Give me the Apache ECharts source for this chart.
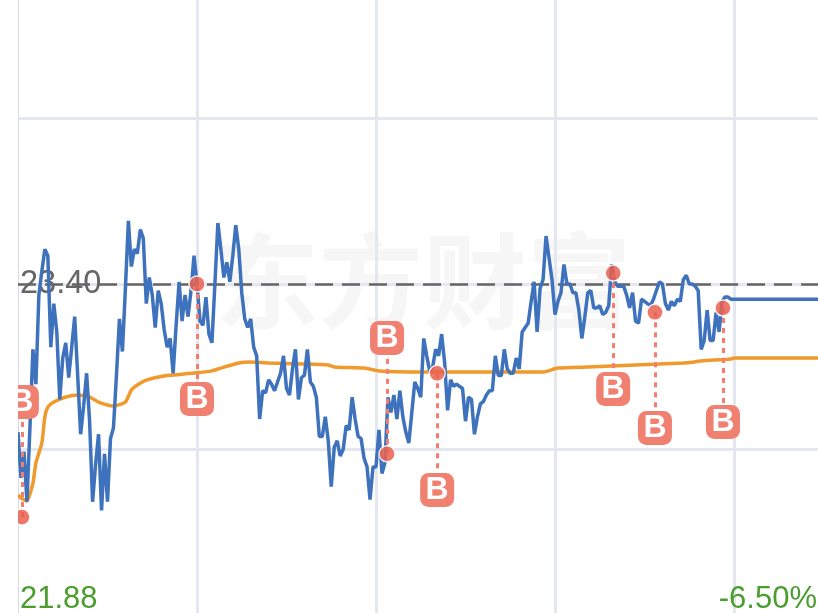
<!DOCTYPE html>
<html>
<head>
    <meta charset="UTF-8">
    <title>分时</title>
    <style type="text/css">
        html,body{margin:0;padding:0;background:#fff;overflow:hidden;}
        #chart{width:818px;height:613px;}
    </style>
</head>
<body>
    <div id="chart"></div>
<script type="text/javascript" src="https://cdn.jsdelivr.net/npm/echarts@6/dist/echarts.min.js"></script>
<script type="text/javascript">
// 分时价格，下标即分钟
var price = [
    22.72,22.51,22.63,22.40,22.74,23.10,22.94,23.35,23.46,23.56,23.53,23.11,23.31,23.18,22.87,23.06,23.13,22.97,23.11,23.25,
    22.98,22.71,22.84,22.99,22.77,22.40,22.57,22.71,22.36,22.62,22.40,22.69,22.74,22.98,23.24,23.09,23.38,23.69,23.48,23.56,
    23.54,23.65,23.61,23.31,23.43,23.35,23.20,23.37,23.31,23.19,23.11,23.15,22.99,23.21,23.41,23.23,23.35,23.25,23.37,23.53,
    23.40,23.23,23.21,23.34,23.17,23.13,23.40,23.68,23.56,23.43,23.50,23.41,23.53,23.67,23.56,23.36,23.24,23.20,23.24,23.11,
    23.07,22.78,22.91,22.90,22.96,22.94,22.91,22.95,22.99,23.07,22.92,22.89,23.01,23.10,22.87,22.97,22.98,23.10,22.95,22.93,
    22.88,22.70,22.70,22.79,22.68,22.47,22.65,22.68,22.61,22.64,22.75,22.73,22.88,22.78,22.70,22.69,22.60,22.56,22.41,22.56,
    22.56,22.73,22.53,22.58,22.88,22.81,22.89,22.78,22.91,22.79,22.72,22.67,22.81,22.95,22.92,22.88,23.15,23.07,23.00,23.02,
    23.10,23.07,23.17,23.04,22.82,22.96,22.93,22.94,22.93,22.92,22.77,22.88,22.87,22.71,22.79,22.85,22.86,22.89,22.91,22.91,
    23.07,22.98,22.98,23.10,23.01,22.99,22.99,23.06,23.01,23.18,23.20,23.22,23.32,23.41,23.18,23.38,23.42,23.62,23.52,23.42,
    23.26,23.32,23.36,23.49,23.40,23.40,23.36,23.36,23.28,23.15,23.25,23.36,23.37,23.29,23.29,23.30,23.26,23.27,23.30,23.49,
    23.41,23.39,23.39,23.39,23.35,23.29,23.36,23.23,23.22,23.33,23.32,23.31,23.30,23.33,23.37,23.41,23.40,23.31,23.28,23.32,
    23.30,23.33,23.32,23.42,23.44,23.40,23.40,23.39,23.37,23.10,23.14,23.28,23.14,23.14,23.27,23.18,23.32,23.34,23.34,23.33,
    23.33,23.33,23.33,23.33,23.33,23.33,23.33,23.33,23.33,23.33,23.33,23.33,23.33,23.33,23.33,23.33,23.33,23.33,23.33,23.33,
    23.33,23.33,23.33,23.33,23.33,23.33,23.33,23.33,23.33,23.33,23.33
];
// 均价线
var avgMinute = [0,1,3,5,6,8,9,10,12,16,20,24,27,32,36,38,40,43,49,59,65,68,74,78,84,96,104,106,116,121,140,163,176,181,191,223,229,239,240,270];
var avgPrice = [22.431,22.417,22.404,22.486,22.578,22.670,22.789,22.835,22.858,22.881,22.890,22.881,22.858,22.840,22.858,22.913,22.936,22.959,22.978,22.991,23.001,23.014,23.037,23.042,23.037,23.033,23.028,23.019,23.014,23.001,22.996,22.996,22.996,23.014,23.019,23.037,23.046,23.056,23.060,23.060];
// 买点
var buyMinute = [1.3,60,123.7,140.5,199.5,213.5,236.3];
var buyPrice = [22.33,23.40,22.62,22.99,23.45,23.27,23.29];
var badgePrice = [22.858,22.872,23.152,22.454,22.918,22.739,22.766];
var lastClose = 23.40;
var priceTicks = [21.88,22.64,23.40,24.16,24.92];
var priceLabels = [21.88,23.40];
var pctLabels = [-6.5];

function zip(a,b) { return a.map(function (item,i) {return [item,b[i]]}) }

var chart = echarts.init(document.getElementById('chart'));
var FONT = '"Liberation Sans"';
var GREEN = '#4a9d2f';
var GRIDLINE = '#e4e7f0';

chart.setOption({
    animation: false,
    graphic: [{
        type: 'text', left: 215, top: 229, z: -1, silent: true,
        style: { text: '东方财富', fill: '#f6f6f6', fontSize: 104, fontWeight: 'bold', fontFamily: '"Noto Sans CJK SC"' }
    }, {
        // 最左边的B被图表边界裁掉
        type: 'rect', left: 0, top: 0, z: 100, silent: true,
        shape: { width: 18, height: 613 },
        style: { fill: '#fff' }
    }],
    grid: { left: 18, right: -95, top: -47, bottom: -2, outerBoundsMode: 'none' },
    xAxis: {
        type: 'value', min: 0, max: 300, interval: 60,
        axisLine: { show: false }, axisTick: { show: false }, axisLabel: { show: false },
        splitLine: { show: true, showMinLine: false, lineStyle: { color: GRIDLINE, width: 3 } }
    },
    yAxis: [{
        type: 'value', min: 21.88, max: 24.92,
        axisLine: { show: true, lineStyle: { color: '#d9dce6', width: 1 } },
        axisTick: { show: false, customValues: priceTicks },
        axisLabel: {
            inside: true, margin: 2, customValues: priceLabels, fontFamily: FONT,
            verticalAlignMinLabel: 'bottom',
            formatter: function (v) { return (v < lastClose ? '{low|' : '{base|') + v.toFixed(2) + '}' },
            rich: {
                low: { fontFamily: FONT, fontSize: 31, color: GREEN },
                base: { fontFamily: FONT, fontSize: 32.5, color: '#666666' }
            }
        },
        splitLine: { show: true, lineStyle: { color: GRIDLINE, width: 3 } }
    }, {
        type: 'value', min: -6.5, max: 6.5, position: 'right',
        axisLine: { show: false },
        axisTick: { show: false, customValues: pctLabels },
        axisLabel: {
            inside: true, margin: 96, customValues: pctLabels, fontFamily: FONT, fontSize: 31, color: GREEN,
            verticalAlignMinLabel: 'bottom',
            formatter: function (v) { return v.toFixed(2) + '%' }
        },
        splitLine: { show: false }
    }],
    series: [{
        name: '均价', type: 'line', symbol: 'none', z: 3, smooth: 0.2,
        data: zip(avgMinute,avgPrice),
        lineStyle: { color: '#f0992d', width: 3.5 }
    }, {
        name: '价格', type: 'line', symbol: 'none', z: 4,
        data: price.map(function (p,i) {return [i,p]}),
        lineStyle: { color: '#3f72bc', width: 3.5 },
        markLine: {
            silent: true, symbol: 'none', z: 2, label: { show: false }, animation: false,
            lineStyle: { color: '#666666', width: 2.5, type: [18,9] },
            data: [{ yAxis: lastClose }]
        }
    }, {
        name: '买点连线', type: 'scatter', symbolSize: 0, z: 5,
        data: [],
        markLine: {
            silent: true, symbol: 'none', label: { show: false }, animation: false,
            lineStyle: { color: '#f47d6d', width: 3, type: [5,5] },
            data: buyMinute.map(function (m,i) {
                return [{ coord: [m,buyPrice[i]] }, { coord: [m,badgePrice[i]] }];
            })
        }
    }, {
        name: '买点', type: 'scatter', symbol: 'circle', symbolSize: 16, z: 6,
        data: zip(buyMinute,buyPrice),
        itemStyle: { color: '#e8604f', opacity: 0.85, borderColor: '#fff', borderWidth: 1.5 }
    }, {
        name: 'B', type: 'scatter', symbol: 'roundRect', symbolSize: 34, z: 7,
        data: zip(buyMinute,badgePrice),
        itemStyle: { color: '#f08070', opacity: 1 },
        label: { show: true, position: 'inside', formatter: 'B', color: '#fff', fontFamily: FONT, fontWeight: 'bold', fontSize: 32 }
    }]
});
</script>
</body>
</html>
